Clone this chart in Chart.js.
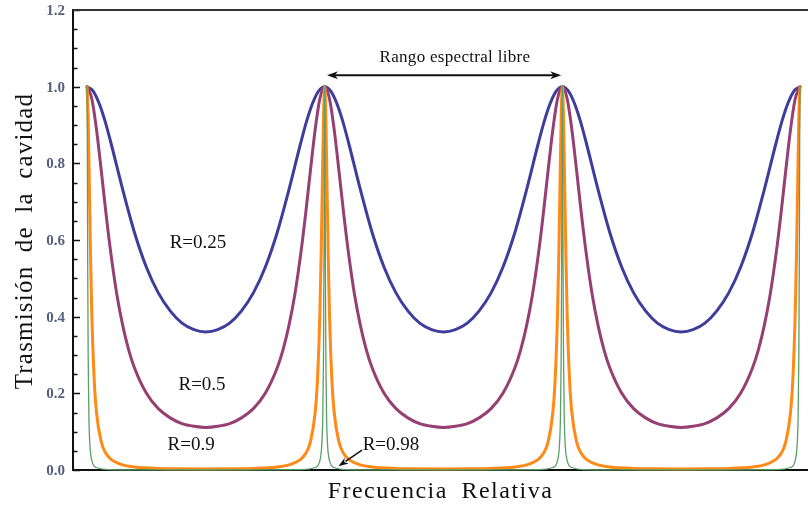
<!DOCTYPE html>
<html>
<head>
<meta charset="utf-8">
<script src="https://cdn.jsdelivr.net/npm/chart.js@4.4.1/dist/chart.umd.min.js"></script>
<style>
  html, body { margin: 0; padding: 0; background: #ffffff; }
  #wrap { width: 808px; height: 505px; }
</style>
</head>
<body>
<div id="wrap"><canvas id="c" width="808" height="505"></canvas></div>
<script>
// Fabry–Perot cavity transmission vs. relative frequency (in units of the free spectral range)

// R = 0.25
const freqR025 = [0,0.025,0.05,0.075,0.1,0.15,0.2,0.25,0.3,0.35,0.4,0.45,0.5,0.55,0.6,0.65,0.7,0.75,0.8,0.85,0.9,0.925,0.95,0.975,
  1,1.025,1.05,1.075,1.1,1.15,1.2,1.25,1.3,1.35,1.4,1.45,1.5,1.55,1.6,1.65,1.7,1.75,1.8,1.85,1.9,1.925,1.95,1.975,
  2,2.025,2.05,2.075,2.1,2.15,2.2,2.25,2.3,2.35,2.4,2.45,2.5,2.55,2.6,2.65,2.7,2.75,2.8,2.85,2.9,2.925,2.95,2.975,3];
const transR025 = [1,0.989,0.958,0.912,0.855,0.732,0.619,0.529,0.462,0.415,0.383,0.366,0.360,0.366,0.383,0.415,0.462,0.529,0.619,0.732,0.855,0.912,0.958,0.989,
  1,0.989,0.958,0.912,0.855,0.732,0.619,0.529,0.462,0.415,0.383,0.366,0.360,0.366,0.383,0.415,0.462,0.529,0.619,0.732,0.855,0.912,0.958,0.989,
  1,0.989,0.958,0.912,0.855,0.732,0.619,0.529,0.462,0.415,0.383,0.366,0.360,0.366,0.383,0.415,0.462,0.529,0.619,0.732,0.855,0.912,0.958,0.989,1];

// R = 0.5
const freqR05 = [0,0.02,0.04,0.06,0.08,0.1,0.125,0.15,0.175,0.2,0.25,0.3,0.35,0.4,0.45,0.5,0.55,0.6,0.65,0.7,0.75,0.8,0.825,0.85,0.875,0.9,0.92,0.94,0.96,0.98,
  1,1.02,1.04,1.06,1.08,1.1,1.125,1.15,1.175,1.2,1.25,1.3,1.35,1.4,1.45,1.5,1.55,1.6,1.65,1.7,1.75,1.8,1.825,1.85,1.875,1.9,1.92,1.94,1.96,1.98,
  2,2.02,2.04,2.06,2.08,2.1,2.125,2.15,2.175,2.2,2.25,2.3,2.35,2.4,2.45,2.5,2.55,2.6,2.65,2.7,2.75,2.8,2.825,2.85,2.875,2.9,2.92,2.94,2.96,2.98,3];
const transR05 = [1,0.969,0.888,0.781,0.669,0.567,0.460,0.378,0.314,0.266,0.200,0.160,0.136,0.121,0.114,0.111,0.114,0.121,0.136,0.160,0.200,0.266,0.314,0.378,0.460,0.567,0.669,0.781,0.888,0.969,
  1,0.969,0.888,0.781,0.669,0.567,0.460,0.378,0.314,0.266,0.200,0.160,0.136,0.121,0.114,0.111,0.114,0.121,0.136,0.160,0.200,0.266,0.314,0.378,0.460,0.567,0.669,0.781,0.888,0.969,
  1,0.969,0.888,0.781,0.669,0.567,0.460,0.378,0.314,0.266,0.200,0.160,0.136,0.121,0.114,0.111,0.114,0.121,0.136,0.160,0.200,0.266,0.314,0.378,0.460,0.567,0.669,0.781,0.888,0.969,1];

// R = 0.9
const freqR09 = [0,0.005,0.01,0.015,0.02,0.03,0.04,0.06,0.08,0.1,0.15,0.2,0.3,0.4,0.5,0.6,0.7,0.8,0.85,0.9,0.92,0.94,0.96,0.97,0.98,0.985,0.99,0.995,
  1,1.005,1.01,1.015,1.02,1.03,1.04,1.06,1.08,1.1,1.15,1.2,1.3,1.4,1.5,1.6,1.7,1.8,1.85,1.9,1.92,1.94,1.96,1.97,1.98,1.985,1.99,1.995,
  2,2.005,2.01,2.015,2.02,2.03,2.04,2.06,2.08,2.1,2.15,2.2,2.3,2.4,2.5,2.6,2.7,2.8,2.85,2.9,2.92,2.94,2.96,2.97,2.98,2.985,2.99,2.995,3];
const transR09 = [1,0.918,0.738,0.556,0.413,0.239,0.150,0.0733,0.043,0.0283,0.0133,0.008,0.0042,0.0031,0.0028,0.0031,0.0042,0.008,0.0133,0.0283,0.043,0.0733,0.150,0.239,0.413,0.556,0.738,0.918,
  1,0.918,0.738,0.556,0.413,0.239,0.150,0.0733,0.043,0.0283,0.0133,0.008,0.0042,0.0031,0.0028,0.0031,0.0042,0.008,0.0133,0.0283,0.043,0.0733,0.150,0.239,0.413,0.556,0.738,0.918,
  1,0.918,0.738,0.556,0.413,0.239,0.150,0.0733,0.043,0.0283,0.0133,0.008,0.0042,0.0031,0.0028,0.0031,0.0042,0.008,0.0133,0.0283,0.043,0.0733,0.150,0.239,0.413,0.556,0.738,0.918,1];

// R = 0.98
const freqR098 = [0,0.001,0.002,0.003,0.005,0.008,0.012,0.02,0.04,0.1,0.25,0.5,0.75,0.9,0.96,0.98,0.988,0.992,0.995,0.997,0.998,0.999,
  1,1.001,1.002,1.003,1.005,1.008,1.012,1.02,1.04,1.1,1.25,1.5,1.75,1.9,1.96,1.98,1.988,1.992,1.995,1.997,1.998,1.999,
  2,2.001,2.002,2.003,2.005,2.008,2.012,2.02,2.04,2.1,2.25,2.5,2.75,2.9,2.96,2.98,2.988,2.992,2.995,2.997,2.998,2.999,3];
const transR098 = [1,0.912,0.721,0.535,0.293,0.139,0.067,0.025,0.0065,0.0011,0.0002,0.0001,0.0002,0.0011,0.0065,0.025,0.067,0.139,0.293,0.535,0.721,0.912,
  1,0.912,0.721,0.535,0.293,0.139,0.067,0.025,0.0065,0.0011,0.0002,0.0001,0.0002,0.0011,0.0065,0.025,0.067,0.139,0.293,0.535,0.721,0.912,
  1,0.912,0.721,0.535,0.293,0.139,0.067,0.025,0.0065,0.0011,0.0002,0.0001,0.0002,0.0011,0.0065,0.025,0.067,0.139,0.293,0.535,0.721,0.912,1];

// Text annotations
const seriesLabels = ["R=0.25", "R=0.5", "R=0.9", "R=0.98"];
const labelAt = [[0.467, 0.592], [0.484, 0.222], [0.438, 0.065], [1.279, 0.065]];
const fsrText = "Rango espectral libre";
const yTitle = "Trasmisión de la cavidad";
const xTitle = "Frecuencia Relativa";

const SERIF = '"Liberation Serif", "DejaVu Serif", serif';

function pts(xs, ys) { return xs.map((x, i) => ({ x: x, y: ys[i] })); }

function isMajor(v) { return Math.abs(v / 0.2 - Math.round(v / 0.2)) < 1e-6; }

function arrowHead(ctx, x0, y0, x1, y1, len, half) {
  const a = Math.atan2(y1 - y0, x1 - x0);
  ctx.beginPath();
  ctx.moveTo(x1, y1);
  ctx.lineTo(x1 - len * Math.cos(a) + half * Math.sin(a), y1 - len * Math.sin(a) - half * Math.cos(a));
  ctx.lineTo(x1 - len * Math.cos(a) * 0.7, y1 - len * Math.sin(a) * 0.7);
  ctx.lineTo(x1 - len * Math.cos(a) - half * Math.sin(a), y1 - len * Math.sin(a) + half * Math.cos(a));
  ctx.closePath();
  ctx.fill();
}

const decor = {
  id: 'decor',
  beforeDatasetsDraw(chart) {
    const { ctx, chartArea: a, scales } = chart;
    const ys = scales.y;
    ctx.save();
    // inward tick marks and labels on the vertical axis
    ctx.strokeStyle = '#111';
    ctx.lineWidth = 1.5;
    ctx.fillStyle = '#56607c';
    ctx.font = 'bold 15px ' + SERIF;
    ctx.textAlign = 'right';
    ctx.textBaseline = 'middle';
    ys.ticks.forEach(t => {
      const p = Math.round(ys.getPixelForValue(t.value)) + 0.5;
      const major = isMajor(t.value);
      const len = major ? 7 : 4.5;
      ctx.beginPath();
      ctx.moveTo(a.left, p);
      ctx.lineTo(a.left + len, p);
      ctx.stroke();
      if (major) ctx.fillText(t.value.toFixed(1), a.left - 8, p + 1);
    });
    // top frame line
    ctx.strokeStyle = '#333';
    ctx.lineWidth = 2;
    ctx.beginPath();
    ctx.moveTo(a.left, a.top);
    ctx.lineTo(a.right, a.top);
    ctx.stroke();
    ctx.restore();
  },
  afterDraw(chart) {
    const { ctx, chartArea: a, scales } = chart;
    const xs = scales.x, ys = scales.y;
    ctx.save();
    ctx.fillStyle = '#111';
    ctx.strokeStyle = '#111';

    // free spectral range double arrow
    const ax0 = xs.getPixelForValue(1.01), ax1 = xs.getPixelForValue(1.995);
    const ay = ys.getPixelForValue(1.030);
    ctx.lineWidth = 2;
    ctx.beginPath();
    ctx.moveTo(ax0 + 6, ay);
    ctx.lineTo(ax1 - 6, ay);
    ctx.stroke();
    arrowHead(ctx, ax1, ay, ax0, ay, 11, 4);
    arrowHead(ctx, ax0, ay, ax1, ay, 11, 4);
    ctx.font = '17px ' + SERIF;
    ctx.letterSpacing = '0.3px';
    ctx.textAlign = 'center';
    ctx.textBaseline = 'middle';
    ctx.fillText(fsrText, xs.getPixelForValue(1.548), ys.getPixelForValue(1.077));

    // series labels
    ctx.font = '19px ' + SERIF;
    ctx.letterSpacing = '0px';
    seriesLabels.forEach((s, i) => {
      ctx.fillText(s, xs.getPixelForValue(labelAt[i][0]), ys.getPixelForValue(labelAt[i][1]));
    });

    // pointer from the R=0.98 label to its curve
    const tx = xs.getPixelForValue(1.157), ty = ys.getPixelForValue(0.052);
    const hx = xs.getPixelForValue(1.058), hy = ys.getPixelForValue(0.010);
    ctx.lineWidth = 1.5;
    ctx.beginPath();
    ctx.moveTo(tx, ty);
    ctx.lineTo(hx + (tx - hx) * 0.3, hy + (ty - hy) * 0.3);
    ctx.stroke();
    arrowHead(ctx, tx, ty, hx, hy, 10, 3.5);

    // axis titles
    ctx.font = '24px ' + SERIF;
    ctx.letterSpacing = '1.5px';
    ctx.wordSpacing = '6px';
    ctx.fillText(xTitle, (a.left + a.right) / 2, 492);
    ctx.font = '25px ' + SERIF;
    ctx.letterSpacing = '1.2px';
    ctx.translate(25, (a.top + a.bottom) / 2 + 1);
    ctx.rotate(-Math.PI / 2);
    ctx.fillText(yTitle, 0, 0);
    ctx.restore();
  }
};

const lineStyle = { pointRadius: 0, fill: false, cubicInterpolationMode: 'monotone', borderJoinStyle: 'round', borderCapStyle: 'round' };

new Chart(document.getElementById('c'), {
  type: 'line',
  data: {
    datasets: [
      Object.assign({ label: 'R=0.98', data: pts(freqR098, transR098), borderColor: '#5a9f66', borderWidth: 1.3, order: 0 }, lineStyle),
      Object.assign({ label: 'R=0.9', data: pts(freqR09, transR09), borderColor: '#ff8a17', borderWidth: 3, order: 1 }, lineStyle),
      Object.assign({ label: 'R=0.5', data: pts(freqR05, transR05), borderColor: '#963f73', borderWidth: 3, order: 2 }, lineStyle),
      Object.assign({ label: 'R=0.25', data: pts(freqR025, transR025), borderColor: '#3f3d9c', borderWidth: 3, order: 3 }, lineStyle)
    ]
  },
  options: {
    responsive: false,
    animation: false,
    devicePixelRatio: 1,
    clip: false,
    layout: { padding: { top: 10, right: 0, bottom: 0, left: 0 } },
    plugins: { legend: { display: false }, tooltip: { enabled: false } },
    scales: {
      x: {
        type: 'linear',
        min: -0.0589,
        max: 3.0336,
        afterFit(s) { s.height = 35; },
        grid: { display: false, drawTicks: false },
        border: { display: true, color: '#111', width: 2 },
        ticks: { display: false }
      },
      y: {
        min: 0,
        max: 1.2,
        afterFit(s) { s.width = 73; },
        grid: { display: false, drawTicks: false },
        border: { display: true, color: '#111', width: 2 },
        ticks: { display: false, stepSize: 0.05, autoSkip: false }
      }
    }
  },
  plugins: [decor]
});
</script>
</body>
</html>
